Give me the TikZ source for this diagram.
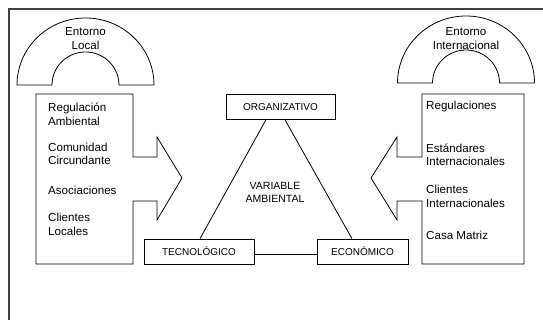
\documentclass[tikz,border=0pt]{standalone}
\usepackage{fontspec}
\setmainfont{Liberation Sans}
\usetikzlibrary{calc}
\tikzset{
  shapeline/.style={draw=black,line width=0.8pt},
  frameline/.style={draw=black!75,line width=1.3pt},
  sidetext/.style={anchor=west,align=left,inner sep=0pt,font=\fontsize{11.6}{13.5}\selectfont},
  archtext/.style={align=center,inner sep=0pt,font=\fontsize{11.6}{13.5}\selectfont},
  varbox/.style={draw=black,line width=0.8pt,minimum height=25pt,inner sep=0pt,font=\fontsize{10}{12}\selectfont},
  centertext/.style={align=center,inner sep=0pt,font=\fontsize{10.5}{13}\selectfont}
}
\begin{document}
\begin{tikzpicture}[x=1pt,y=-1pt]
\useasboundingbox (0,0) rectangle (543,320);
% frame (cropped)
\draw[frameline] (9,320) -- (9,9) -- (543,9);
% left arch
\draw[shapeline] (17,85) arc[start angle=180,end angle=360,x radius=68.5,y radius=67]
  -- (119,85) arc[start angle=0,end angle=-180,x radius=33.5,y radius=33] -- cycle;
\node[archtext] (el) at (85.5,38.5) {Entorno\\Local};
% right arch
\draw[shapeline] (397.5,83) arc[start angle=180,end angle=360,x radius=68.5,y radius=67]
  -- (499.5,83) arc[start angle=0,end angle=-180,x radius=33.5,y radius=33] -- cycle;
\node[archtext] (ei) at (466,38.5) {Entorno\\Internacional};
% left arrow box
\draw[shapeline] (36,94) -- (133,94) -- (133,157) -- (157,157) -- (157,137) -- (182,178)
  -- (157,220) -- (157,201) -- (133,201) -- (133,264) -- (36,264) -- cycle;
\node[sidetext] (l1) at (48,114.5) {Regulación\\Ambiental};
\node[sidetext] (l2) at (48,154) {Comunidad\\Circundante};
\node[sidetext] (l3) at (48,190) {Asociaciones};
\node[sidetext] (l4) at (48,224.5) {Clientes\\Locales};
% right arrow box
\draw[shapeline] (524,94) -- (422,94) -- (422,157) -- (397,157) -- (397,137) -- (371,178)
  -- (397,220) -- (397,201) -- (422,201) -- (422,264) -- (524,264) -- cycle;
\node[sidetext] (r1) at (426,107) {Regulaciones};
\node[sidetext] (r2) at (426,155) {Estándares\\Internacionales};
\node[sidetext] (r3) at (426,196.5) {Clientes\\Internacionales};
\node[sidetext] (r4) at (426,235) {Casa Matriz};
% triangle
\node[varbox,minimum width=109pt] (org) at (280.5,107) {ORGANIZATIVO};
\node[varbox,minimum width=110pt] (tec) at (199,251.5) {TECNOLÓGICO};
\node[varbox,minimum width=91pt] (eco) at (362.5,251.5) {ECONÓMICO};
\node[centertext] (var) at (275,192.5) {VARIABLE\\AMBIENTAL};
\draw[shapeline] ($(org.south west)!0.367!(org.south east)$) -- ($(tec.north west)!0.509!(tec.north east)$);
\draw[shapeline] ($(org.south west)!0.541!(org.south east)$) -- ($(eco.north west)!0.385!(eco.north east)$);
\draw[shapeline] ($(tec.north east)!0.6!(tec.south east)$) -- ($(eco.north west)!0.6!(eco.south west)$);
\end{tikzpicture}
\end{document}
